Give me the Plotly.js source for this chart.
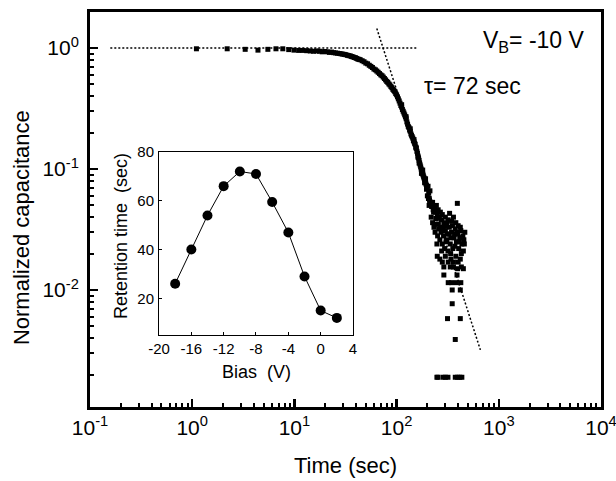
<!DOCTYPE html>
<html><head><meta charset="utf-8">
<script src="https://cdn.plot.ly/plotly-3.0.1.min.js"></script>
<style>html,body{margin:0;padding:0;background:#fff}</style>
</head><body><div id="chart" style="width:616px;height:481px"></div>
<script>
// ---- main data: normalized capacitance decay at V_B = -10 V ----
const timeSec = [
 1.1, 2.2, 3.3, 4.4, 5.5, 6.6, 7.7, 8.8,
 9.9, 11, 12.1, 13.2, 14.3, 15.4, 16.5, 17.6, 18.7, 19.8, 20.9, 22, 23.1, 24.2, 25.3, 26.4, 27.5, 28.6, 29.7, 30.8, 31.9, 33, 34.1, 35.2, 36.3, 37.4, 38.5, 39.6, 40.7, 41.8, 42.9, 44,
 46, 48, 50, 52, 54, 56, 58, 60, 62, 64, 66, 68, 70, 72, 74, 76, 78, 80, 82, 84, 86, 88, 90, 92, 94, 96, 98, 100,
 102, 104, 106, 108, 110, 112, 114, 116, 118, 120, 122, 124, 126, 128, 130, 132, 134, 136, 138, 140, 142, 144, 146, 148, 150,
 152, 154, 156, 158, 160, 162, 164, 166, 168, 170, 172, 174, 176, 178, 180, 182, 184, 186, 188, 190, 192, 194, 196, 198,
 112, 124, 136, 148, 155, 162, 166, 175, 180, 188, 192, 196, 203, 206, 212,
 200, 205, 210, 208, 215, 220, 225, 228, 235, 240, 245, 250, 255, 262, 268, 275, 280, 290, 300, 310, 320, 330, 345, 393, 360, 380, 400, 420,
 218, 225, 232, 238, 245, 252, 258, 265, 272, 280, 288, 295, 300, 310, 318, 325, 335, 345, 355, 365, 375, 385, 395, 405, 415, 425, 435, 445, 455, 465, 450, 430,
 230, 242, 256, 270, 285, 298, 312, 328, 340, 352, 370, 388, 410, 440, 460, 248, 276, 304, 338, 372,
 250, 265, 280, 300, 320, 340, 360, 380, 400, 420,
 290, 335, 360, 395, 430, 450,
 290, 390,
 320, 345, 385, 425,
 350, 420,
 350,
 315, 420,
 375,
 248, 254, 285, 300, 318, 375, 395, 415, 435
];
const capNorm = [
 0.985, 0.985, 0.975, 0.96, 0.975, 0.985, 0.985, 0.97,
 0.96, 0.955, 0.955, 0.95, 0.945, 0.94, 0.945, 0.94, 0.93, 0.935, 0.93, 0.92, 0.925, 0.915, 0.91, 0.905, 0.90, 0.895, 0.89, 0.885, 0.88, 0.87, 0.865, 0.86, 0.85, 0.845, 0.835, 0.83, 0.82, 0.81, 0.805, 0.80,
 0.785, 0.77, 0.75, 0.74, 0.72, 0.705, 0.69, 0.67, 0.66, 0.645, 0.63, 0.615, 0.60, 0.59, 0.575, 0.56, 0.545, 0.53, 0.52, 0.505, 0.495, 0.48, 0.47, 0.455, 0.445, 0.435, 0.42, 0.41,
 0.395, 0.38, 0.365, 0.35, 0.335, 0.325, 0.31, 0.30, 0.29, 0.28, 0.27, 0.26, 0.245, 0.235, 0.225, 0.22, 0.21, 0.205, 0.195, 0.19, 0.185, 0.18, 0.172, 0.168, 0.163,
 0.16, 0.152, 0.148, 0.14, 0.135, 0.128, 0.123, 0.118, 0.112, 0.108, 0.104, 0.10, 0.097, 0.094, 0.091, 0.089, 0.086, 0.084, 0.082, 0.079, 0.077, 0.075, 0.073, 0.071,
 0.34, 0.27, 0.215, 0.175, 0.15, 0.125, 0.112, 0.092, 0.098, 0.077, 0.083, 0.068, 0.072, 0.063, 0.066,
 0.060, 0.057, 0.055, 0.050, 0.052, 0.049, 0.053, 0.046, 0.048, 0.044, 0.050, 0.042, 0.046, 0.040, 0.044, 0.038, 0.042, 0.036, 0.040, 0.035, 0.038, 0.043, 0.037, 0.052, 0.040, 0.036, 0.034, 0.033,
 0.040, 0.036, 0.033, 0.030, 0.035, 0.028, 0.032, 0.026, 0.030, 0.024, 0.028, 0.022, 0.031, 0.026, 0.021, 0.029, 0.024, 0.030, 0.022, 0.027, 0.032, 0.025, 0.029, 0.022, 0.027, 0.031, 0.024, 0.028, 0.026, 0.030, 0.021, 0.020,
 0.044, 0.039, 0.035, 0.033, 0.031, 0.034, 0.029, 0.033, 0.027, 0.034, 0.029, 0.030, 0.025, 0.027, 0.024, 0.024, 0.021, 0.025, 0.020, 0.023,
 0.019, 0.018, 0.017, 0.019, 0.017, 0.018, 0.017, 0.019, 0.017, 0.018,
 0.0155, 0.0155, 0.0155, 0.015, 0.0155, 0.015,
 0.0133, 0.0133,
 0.0115, 0.0115, 0.0115, 0.0115,
 0.010, 0.010,
 0.0077,
 0.0058, 0.0058,
 0.0039,
 0.0019, 0.0019, 0.0019, 0.0019, 0.0019, 0.0019, 0.0019, 0.0019, 0.0019
];
// reference lines (dotted)
const plateauTime = [0.158, 158];
const plateauCap = [1, 1];
const fitTime = [64, 660];
const fitCap = [1.45, 0.0032];

// ---- inset data ----
const biasV = [-18, -16, -14, -12, -10, -8, -6, -4, -2, 0, 2];
const retentionSec = [26, 40, 54, 66, 72, 71, 59.5, 47, 29, 15, 12];

// ---- tick labels ----
const xTickVals = [0.1, 1, 10, 100, 1000, 10000];
const xTickText = ['10<sup>-1</sup>', '10<sup>0</sup>', '10<sup>1</sup>', '10<sup>2</sup>', '10<sup>3</sup>', '10<sup>4</sup>'];
const yTickVals = [0.01, 0.1, 1];
const yTickText = ['10<sup>-2</sup>', '10<sup>-1</sup>', '10<sup>0</sup>'];
const biasTickVals = [-20, -16, -12, -8, -4, 0, 4];
const biasTickText = ['-20', '-16', '-12', '-8', '-4', '0', '4'];
const retTickVals = [20, 40, 60, 80];

function minorLog(d0, d1) {
  const v = [];
  for (let d = d0; d <= d1; d++) for (let m = 2; m <= 9; m++) v.push(m * Math.pow(10, d));
  return v;
}

const FONT = 'Liberation Sans, Arial, Helvetica, sans-serif';

const traces = [
  {x: plateauTime, y: plateauCap, xaxis: 'x', yaxis: 'y', mode: 'lines',
   line: {color: 'black', width: 1.5, dash: '2px,2px'}, hoverinfo: 'skip'},
  {x: fitTime, y: fitCap, xaxis: 'x', yaxis: 'y', mode: 'lines',
   line: {color: 'black', width: 1.5, dash: '2px,2px'}, hoverinfo: 'skip'},
  {x: timeSec, y: capNorm, xaxis: 'x', yaxis: 'y', mode: 'markers',
   marker: {symbol: 'square', size: 5, color: 'black'}},
  {x: biasV, y: retentionSec, xaxis: 'x2', yaxis: 'y2', mode: 'lines+markers',
   line: {color: 'black', width: 1}, marker: {symbol: 'circle', size: 10, color: 'black'}}
];

const layout = {
  width: 616, height: 481,
  margin: {l: 90, r: 15, t: 12, b: 74},
  showlegend: false,
  paper_bgcolor: 'white', plot_bgcolor: 'white',
  font: {family: FONT, color: 'black'},
  xaxis: {
    type: 'log', range: [-1, 4], domain: [0, 1], anchor: 'y',
    showline: true, linewidth: 3, linecolor: 'black', mirror: true,
    showgrid: false, zeroline: false,
    ticks: 'inside', ticklen: 8, tickwidth: 2.5, tickcolor: 'black',
    tickmode: 'array', tickvals: xTickVals, ticktext: xTickText,
    ticklabeloverflow: 'allow',
    tickfont: {size: 21, family: FONT, color: 'black'},
    minor: {tickmode: 'array', tickvals: minorLog(-1, 3), ticks: 'inside', ticklen: 4, tickwidth: 2, tickcolor: 'black', showgrid: false},
    title: {text: 'Time (sec)', font: {size: 22, family: FONT, color: 'black'}, standoff: 20}
  },
  yaxis: {
    type: 'log', range: [-2.967, 0.2975], domain: [0, 1], anchor: 'x',
    showline: true, linewidth: 3, linecolor: 'black', mirror: true,
    showgrid: false, zeroline: false,
    ticks: 'inside', ticklen: 8, tickwidth: 2.5, tickcolor: 'black',
    tickmode: 'array', tickvals: yTickVals, ticktext: yTickText,
    ticklabeloverflow: 'allow',
    tickfont: {size: 21, family: FONT, color: 'black'},
    ticklabelstandoff: 4,
    minor: {tickmode: 'array', tickvals: minorLog(-3, 0), ticks: 'inside', ticklen: 4, tickwidth: 2, tickcolor: 'black', showgrid: false}
  },
  xaxis2: {
    domain: [0.135, 0.5147], anchor: 'y2', range: [-20, 4],
    showline: true, linewidth: 1, linecolor: 'black', mirror: true,
    showgrid: false, zeroline: false,
    ticks: 'inside', ticklen: 3, tickwidth: 1, tickcolor: 'black',
    tickmode: 'array', tickvals: biasTickVals, ticktext: biasTickText,
    ticklabeloverflow: 'allow',
    tickfont: {size: 15, family: FONT, color: 'black'}
  },
  yaxis2: {
    domain: [0.1823, 0.6456], anchor: 'x2', range: [5, 80],
    showline: true, linewidth: 1, linecolor: 'black', mirror: true,
    showgrid: false, zeroline: false,
    ticks: 'inside', ticklen: 3, tickwidth: 1, tickcolor: 'black',
    tickmode: 'array', tickvals: retTickVals,
    ticklabeloverflow: 'allow',
    tickfont: {size: 15, family: FONT, color: 'black'},
    ticklabelstandoff: 1
  },
  annotations: [
    {text: 'Normalized capacitance', xref: 'paper', yref: 'paper', x: -0.135, y: 0.453,
     xanchor: 'center', yanchor: 'middle', textangle: -90, showarrow: false,
     font: {size: 22, family: FONT, color: 'black'}},
    {text: 'Retention time&nbsp; (sec)', xref: 'paper', yref: 'paper', x: 0.0607, y: 0.433,
     xanchor: 'center', yanchor: 'middle', textangle: -90, showarrow: false,
     font: {size: 18, family: FONT, color: 'black'}},
    {text: 'Bias&nbsp; (V)', xref: 'paper', yref: 'paper', x: 0.325, y: 0.0886,
     xanchor: 'center', yanchor: 'middle', showarrow: false,
     font: {size: 18, family: FONT, color: 'black'}},
    {text: 'V<sub>B</sub>= -10 V', xref: 'paper', yref: 'paper', x: 0.9726, y: 0.925,
     xanchor: 'right', yanchor: 'middle', showarrow: false,
     font: {size: 23, family: FONT, color: 'black'}},
    {text: '\u03c4= 72 sec', xref: 'paper', yref: 'paper', x: 0.6497, y: 0.8127,
     xanchor: 'left', yanchor: 'middle', showarrow: false,
     font: {size: 23, family: FONT, color: 'black'}}
  ]
};

Plotly.newPlot('chart', traces, layout, {staticPlot: true, displayModeBar: false});
</script></body></html>
